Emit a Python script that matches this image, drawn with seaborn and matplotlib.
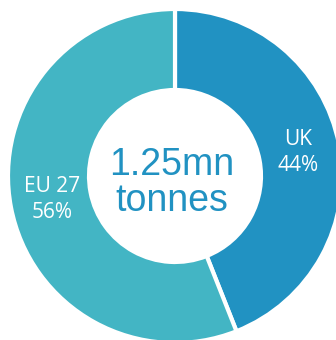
import matplotlib
matplotlib.use("Agg")
import matplotlib.pyplot as plt
import seaborn as sns

# Share of total tonnage by destination
regions = ["UK", "EU 27"]
shares = [44, 56]
total_label = "1.25mn\ntonnes"

sns.set_theme(style="white")
colors = ["#2192c2", "#43b5c4"]

fig = plt.figure(figsize=(3.36, 3.40), dpi=100)
ax = fig.add_axes([0, 0, 1, 1])

labels = [f"{r}\n{s}%" for r, s in zip(regions, shares)]
wedges, texts = ax.pie(
    shares,
    labels=labels,
    colors=colors,
    startangle=90,
    counterclock=False,
    center=(175, 164),
    radius=167,
    labeldistance=0.75,
    wedgeprops=dict(width=81, edgecolor="white", linewidth=3),
    textprops=dict(color="white", fontsize=15, family="Open Sans",
                   linespacing=1.3),
    frame=True,
)
for t in texts:
    t.set_horizontalalignment("center")
    t.set_verticalalignment("center")

ax.set_xlim(0, 336)
ax.set_ylim(0, 340)
ax.set_aspect("equal")
ax.axis("off")

ax.text(172, 157, total_label, ha="center", va="center", color="#2192c2",
        fontsize=27, family="Liberation Sans", linespacing=1.0)

fig.savefig("out.png", dpi=100)
